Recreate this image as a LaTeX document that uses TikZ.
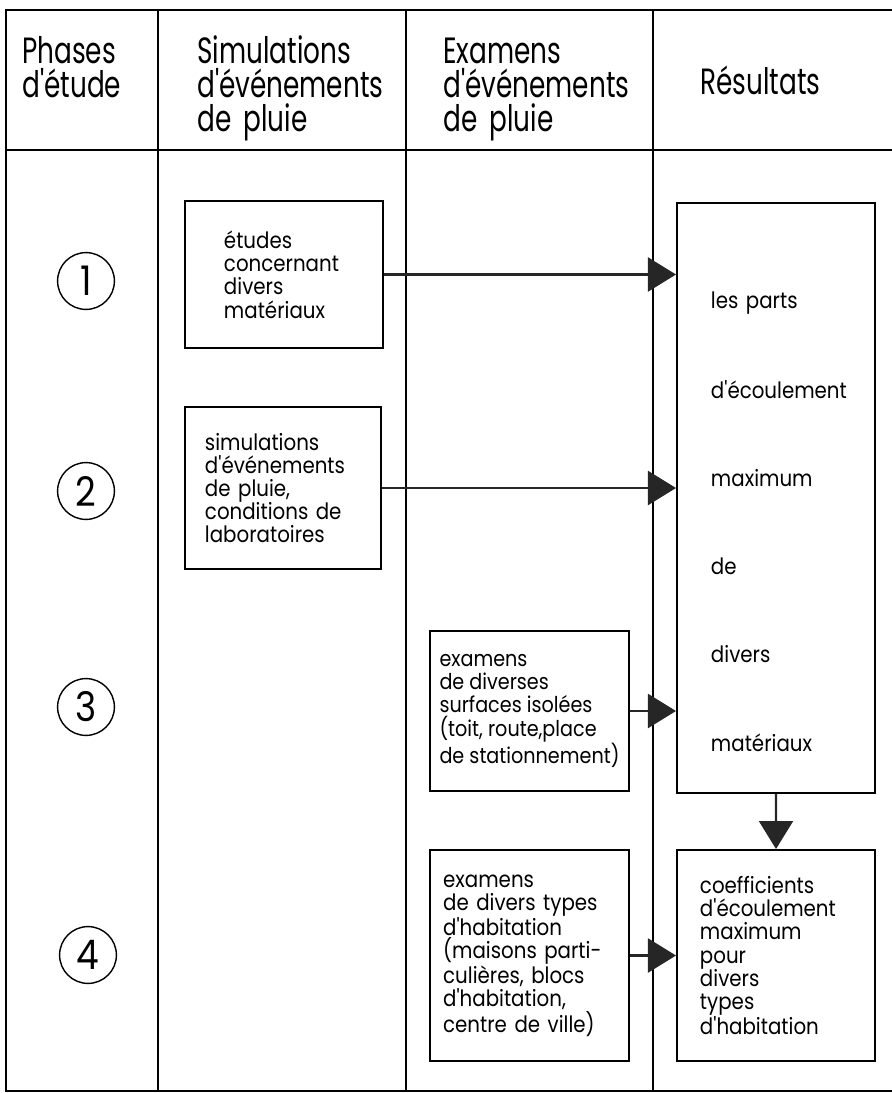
\documentclass[tikz,border=0pt]{standalone}
\usepackage{fontspec}
\usetikzlibrary{arrows.meta}
\newfontfamily\bodyfont[FakeStretch=0.88,Ligatures=NoCommon]{Poppins}
\newfontfamily\headfont[FakeStretch=0.72,Ligatures=NoCommon]{Poppins}
\hyphenpenalty=10000
\exhyphenpenalty=10000
\tikzset{
  grid/.style={line width=1.1pt},
  box/.style={draw, line width=1.4pt, align=left, anchor=north west, inner ysep=0pt,
    font=\bodyfont\fontsize{16}{16.5}\selectfont},
  phase/.style={draw, circle, line width=1pt, minimum size=1.42cm, inner sep=0pt,
    font=\bodyfont\fontsize{29}{29}\selectfont},
  head/.style={align=left, anchor=base west, inner sep=0pt, text width=5cm,
    font=\headfont\fontsize{26}{24.5}\selectfont},
  arr/.style={line width=1.5pt, draw=black!85, -{Triangle[length=0.7cm,width=0.85cm]}}
}
\begin{document}
\begin{tikzpicture}[x=0.025cm, y=-0.025cm]
	\useasboundingbox (0,0) rectangle (892,1093);
	
	% table
	\draw[grid] (5,10) -- (892,10);
	\draw[grid] (5,150) -- (892,150);
	\draw[grid] (5,1091) -- (892,1091);
	\draw[grid] (6,10) -- (6,1091);
	\draw[grid] (158,10) -- (158,1091);
	\draw[grid] (406,10) -- (406,1091);
	\draw[grid] (653,10) -- (653,1091);
	
	% headings
	\node[head] (hPhase) at (22,63) {Phases\\d'étude};
	\node[head] (hSimul) at (197,63) {Simulations\\d'événements\\de pluie};
	\node[head] (hExam) at (443,63) {Examens\\d'événements\\de pluie};
	\node[head] (hRes) at (700,94) {Résultats};
	
	% phases
	\node[phase] (ph1) at (86,281) {1};
	\node[phase] (ph2) at (86,491) {2};
	\node[phase] (ph3) at (86,707) {3};
	\node[phase] (ph4) at (88,955) {4};
	
	% boxes
	\node[box, minimum width=4.95cm, minimum height=3.675cm, inner xsep=0.975cm, text width=3cm]
		(b1) at (184,200) {études\\concernant\\divers\\matériaux};
	\node[box, minimum width=4.9cm, minimum height=4.05cm, inner xsep=0.5cm, text width=3.9cm]
		(b2) at (184,406) {simulations\\d'événements\\de pluie,\\conditions de\\laboratoires};
	\node[box, minimum width=4.975cm, minimum height=4cm, inner xsep=0.15cm,
		font=\bodyfont\fontsize{15.5}{16.5}\selectfont]
		(b3) at (429,630) {examens\\de diverses\\surfaces isolées\\(toit, route,place\\de stationnement)};
	\node[box, minimum width=4.975cm, minimum height=5.275cm, inner xsep=0.33cm, text width=4.315cm]
		(b4) at (429,849) {examens\\de divers types\\d'habitation\\(maisons parti-\\culières, blocs\\d'habitation,\\centre de ville)};
	\node[box, minimum width=4.95cm, minimum height=14.75cm, inner xsep=0.85cm, text width=3.25cm, text height=1.6cm]
		(res) at (676,202) {les parts\\[1.62cm]d'écoulement\\[1.62cm]maximum\\[1.62cm]de\\[1.62cm]divers\\[1.62cm]matériaux};
	\node[box, minimum width=4.95cm, minimum height=5.275cm, inner xsep=0.575cm, text width=3.8cm]
		(coef) at (676,849) {coefficients\\d'écoulement\\maximum\\pour\\divers\\types\\d'habitation};
	
	% arrows
	\draw[arr] (b1.east) -- (b1.east -| res.west);
	\draw[arr] (b2.east) -- (b2.east -| res.west);
	\draw[arr] (b3.east) -- (b3.east -| res.west);
	\draw[arr] (b4.east) -- (b4.east -| coef.west);
	\draw[arr] (res.south) -- (coef.north);
\end{tikzpicture}
\end{document}
